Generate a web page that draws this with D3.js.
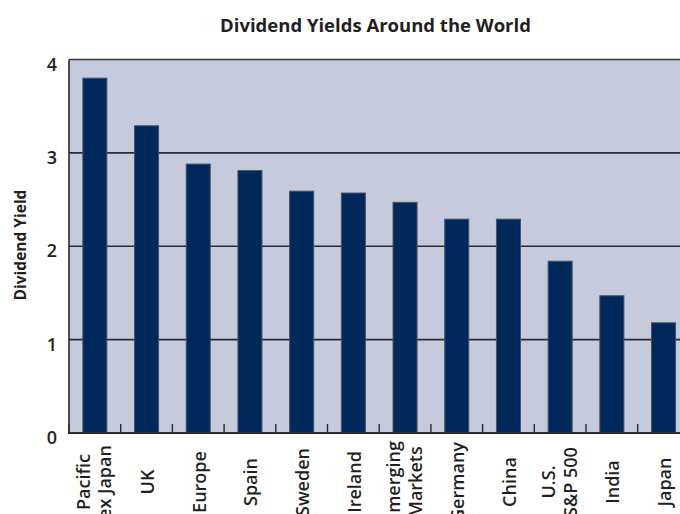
<!DOCTYPE html>
<html>
<head>
<meta charset="utf-8">
<script src="https://cdn.jsdelivr.net/npm/d3@7"></script>
<style>
  html, body { margin: 0; padding: 0; background: #ffffff; }
  svg { display: block; }
  text { font-family: "Open Sans", "Noto Sans", sans-serif; fill: #231f20; }
</style>
</head>
<body>
<svg id="chart" width="680" height="514"></svg>
<script>
// Dividend yields by market (%)
const markets = [
  ["Pacific", "ex Japan"], ["UK"], ["Europe"], ["Spain"], ["Sweden"], ["Ireland"],
  ["Emerging", "Markets"], ["Germany"], ["China"], ["U.S.", "S&P 500"], ["India"], ["Japan"]
];
const yields = [3.80, 3.29, 2.88, 2.81, 2.59, 2.57, 2.47, 2.29, 2.29, 1.84, 1.47, 1.18];
const yTicks = [0, 1, 2, 3, 4];

const chartTitle = "Dividend Yields Around the World";
const yTitle = "Dividend Yield";

const svg = d3.select("#chart");

// plot frame (right side runs past the edge of the page)
const plotLeft = 69, plotTop = 59.5, plotBottom = 433, step = 51.7;
const plotRight = plotLeft + step * markets.length;

const keys = markets.map(m => m.join(" "));
const x = d3.scaleBand()
  .domain(keys)
  .range([plotLeft, plotRight])
  .paddingInner(0.535)
  .paddingOuter(0.2675);

const y = d3.scaleLinear().domain([0, 4]).range([plotBottom, plotTop]);

// plot background
svg.append("rect")
  .attr("x", plotLeft).attr("y", plotTop)
  .attr("width", plotRight - plotLeft).attr("height", plotBottom - plotTop)
  .attr("fill", "#c5cadc");

// horizontal grid lines
svg.append("g")
  .selectAll("line")
  .data(yTicks.filter(t => t > 0 && t < 4))
  .join("line")
  .attr("x1", plotLeft).attr("x2", plotRight)
  .attr("y1", d => y(d)).attr("y2", d => y(d))
  .attr("stroke", "#2b2b2e").attr("stroke-width", 1.6);

// bars
svg.append("g")
  .selectAll("rect")
  .data(yields)
  .join("rect")
  .attr("x", (d, i) => x(keys[i]))
  .attr("y", d => y(d))
  .attr("width", x.bandwidth())
  .attr("height", d => plotBottom - y(d))
  .attr("fill", "#00285a")
  .attr("stroke", "#4a5263")
  .attr("stroke-width", 1);

// frame: top and left edges
svg.append("line")
  .attr("x1", plotLeft).attr("x2", plotRight).attr("y1", y(4)).attr("y2", y(4))
  .attr("stroke", "#3a3a3e").attr("stroke-width", 1.6);
svg.append("line")
  .attr("x1", plotLeft).attr("x2", plotLeft).attr("y1", plotTop).attr("y2", plotBottom)
  .attr("stroke", "#2b2b2e").attr("stroke-width", 1.6);

// category boundary ticks, pointing up from the baseline
const bounds = d3.range(markets.length + 1).map(i => plotLeft + i * x.step());
svg.append("g")
  .selectAll("line")
  .data(bounds)
  .join("line")
  .attr("x1", d => d).attr("x2", d => d)
  .attr("y1", plotBottom).attr("y2", plotBottom - 9)
  .attr("stroke", "#2b2b2e").attr("stroke-width", 1.4);

// baseline
svg.append("line")
  .attr("x1", plotLeft - 1).attr("x2", plotRight).attr("y1", plotBottom).attr("y2", plotBottom)
  .attr("stroke", "#2b2b2e").attr("stroke-width", 2);

// y tick labels
svg.append("g")
  .selectAll("text")
  .data(yTicks)
  .join("text")
  .attr("x", plotLeft - 12)
  .attr("y", d => y(d) + 11)
  .attr("text-anchor", "end")
  .attr("font-size", 18)
  .attr("font-weight", 600)
  .text(d => d);

// x category labels, rotated
const xl = svg.append("g")
  .selectAll("text")
  .data(markets)
  .join("text")
  .attr("transform", (d, i) => {
    const cx = x(keys[i]) + x.bandwidth() / 2;
    return `translate(${cx},482) rotate(-90)`;
  })
  .attr("text-anchor", "middle")
  .attr("font-size", 18)
  .attr("font-weight", 600);

xl.selectAll("tspan")
  .data(d => d.map((line, j) => ({ line, j, n: d.length })))
  .join("tspan")
  .attr("x", 0)
  .attr("y", d => d.n === 1 ? 7.5 : (d.j === 0 ? -5 : 16.5))
  .text(d => d.line);

// axis title
svg.append("text")
  .attr("transform", "translate(26,245) rotate(-90)")
  .attr("text-anchor", "middle")
  .attr("font-size", 15.5)
  .attr("font-weight", 700)
  .text(yTitle);

// chart title
svg.append("text")
  .attr("x", 375.5)
  .attr("y", 32)
  .attr("text-anchor", "middle")
  .attr("font-size", 18.5)
  .attr("font-weight", 700)
  .text(chartTitle);
</script>
</body>
</html>
